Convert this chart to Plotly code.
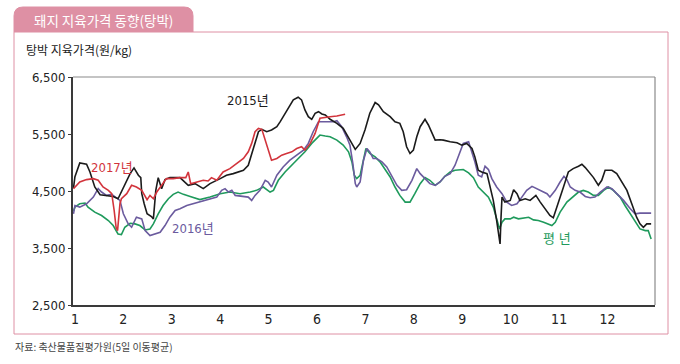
import plotly.graph_objects as go

# ---- data (x = month position, y = price won/kg) ----
y2015_x = [0.97, 1.00, 1.10, 1.24, 1.31, 1.41, 1.52, 1.65, 1.79, 1.89, 2.00, 2.14, 2.22, 2.31, 2.36, 2.38, 2.43, 2.49,
           2.58, 2.62, 2.67, 2.72, 2.79, 2.86, 2.96, 3.17, 3.34, 3.48, 3.65, 3.79, 4.00, 4.13, 4.27, 4.48, 4.58, 4.68,
           4.79, 4.86, 4.96, 5.06, 5.17, 5.24, 5.37, 5.51, 5.61, 5.68, 5.75, 5.82, 5.89, 5.96, 6.03, 6.10, 6.17, 6.27,
           6.41, 6.54, 6.68, 6.79, 6.89, 6.99, 7.09, 7.20, 7.27, 7.37, 7.51, 7.61, 7.71, 7.78, 7.85, 7.92, 7.99, 8.06,
           8.13, 8.23, 8.30, 8.37, 8.44, 8.54, 8.61, 8.75, 8.89, 8.99, 9.09, 9.20, 9.26, 9.33, 9.40, 9.51, 9.57, 9.64,
           9.71, 9.75, 9.78, 9.80, 9.82, 9.88, 9.99, 10.06, 10.13, 10.19, 10.30, 10.40, 10.52, 10.61, 10.71, 10.81,
           10.88, 10.99, 11.09, 11.19, 11.29, 11.40, 11.47, 11.54, 11.64, 11.71, 11.81, 11.88, 11.95, 12.09, 12.19,
           12.29, 12.40, 12.50, 12.60, 12.67, 12.74, 12.81, 12.90]
y2015_v = [4550, 4750, 4993, 4970, 4834, 4570, 4435, 4423, 4405, 4364, 4570, 4805, 4905, 4776, 4735, 4453, 4276, 4100,
           4052, 4011, 4511, 4735, 4541, 4700, 4735, 4735, 4600, 4629, 4541, 4629, 4717, 4776, 4805, 4864, 4952, 5246,
           5540, 5582, 5540, 5570, 5628, 5716, 5892, 6099, 6146, 6099, 5922, 5804, 5758, 5864, 5892, 5852, 5834, 5758,
           5687, 5599, 5393, 5229, 5335, 5570, 5864, 6052, 6011, 5892, 5804, 5716, 5687, 5540, 5276, 5158, 5217, 5451,
           5628, 5758, 5658, 5511, 5393, 5400, 5393, 5364, 5346, 5305, 5335, 5246, 5099, 4864, 4834, 4805, 4600, 4335,
           3982, 3747, 3570, 4040, 4393, 4305, 4335, 4523, 4453, 4335, 4364, 4335, 4423, 4305, 4188, 4070,
           4029, 4335, 4570, 4834, 4893, 4934, 4970, 4911, 4817, 4735, 4600, 4688, 4864, 4864, 4805,
           4658, 4511, 4276, 4040, 3923, 3864, 3923, 3923]

y2017_x = [0.97, 1.10, 1.24, 1.38, 1.48, 1.58, 1.69, 1.76, 1.81, 1.85, 1.88, 1.93, 1.96, 2.07, 2.17, 2.27, 2.38, 2.45,
           2.49, 2.55, 2.62, 2.69, 2.79, 2.89, 3.03, 3.17, 3.29, 3.34, 3.39, 3.51, 3.65, 3.75, 3.82, 3.93, 4.06, 4.20,
           4.34, 4.48, 4.58, 4.65, 4.72, 4.79, 4.86, 4.93, 4.99, 5.06, 5.17, 5.27, 5.37, 5.48, 5.58, 5.68, 5.75, 5.86,
           5.96, 6.03, 6.06, 6.27, 6.41, 6.58]
y2017_v = [4541, 4658, 4700, 4717, 4688, 4570, 4511, 4453, 4158, 3864, 3805, 4276, 4364, 4453, 4600, 4570, 4511, 4393,
           4347, 4423, 4364, 4482, 4600, 4717, 4717, 4735, 4735, 4834, 4629, 4658, 4688, 4676, 4735, 4688, 4834, 4893,
           4981, 5070, 5187, 5335, 5540, 5599, 5582, 5393, 5187, 5040, 5070, 5128, 5158, 5187, 5246, 5276, 5217, 5335,
           5511, 5716, 5775, 5804, 5816, 5846]

y2016_x = [0.97, 1.00, 1.10, 1.24, 1.38, 1.48, 1.55, 1.65, 1.76, 1.86, 1.93, 2.00, 2.10, 2.17, 2.27, 2.38, 2.45, 2.55,
           2.65, 2.76, 2.86, 2.96, 3.07, 3.17, 3.31, 3.44, 3.55, 3.65, 3.79, 3.93, 4.03, 4.10, 4.17, 4.24, 4.31, 4.44,
           4.58, 4.65, 4.72, 4.82, 4.93, 4.99, 5.06, 5.17, 5.30, 5.44, 5.58, 5.72, 5.82, 5.92, 6.03, 6.20, 6.34, 6.41,
           6.51, 6.61, 6.68, 6.74, 6.79, 6.82, 6.89, 6.96, 7.03, 7.09, 7.16, 7.23, 7.34, 7.44, 7.54, 7.65, 7.75, 7.85,
           7.96, 8.06, 8.13, 8.23, 8.33, 8.44, 8.54, 8.64, 8.75, 8.85, 8.95, 9.02, 9.13, 9.20, 9.26, 9.33, 9.40, 9.47,
           9.54, 9.61, 9.71, 9.82, 9.92, 10.02, 10.13, 10.23, 10.33, 10.44, 10.54, 10.64, 10.75, 10.81, 10.92, 11.02,
           11.10, 11.16, 11.23, 11.33, 11.43, 11.54, 11.64, 11.74, 11.85, 11.99, 12.09, 12.19, 12.33, 12.47, 12.57,
           12.67, 12.81, 12.90]
y2016_v = [4100, 4246, 4217, 4276, 4393, 4541, 4482, 4423, 4441, 4382, 4335, 4100, 3923, 3864, 4040, 4011, 3805, 3717,
           3747, 3776, 3894, 4040, 4158, 4188, 4246, 4276, 4305, 4335, 4364, 4393, 4511, 4541, 4482, 4511, 4423, 4405,
           4393, 4335, 4423, 4511, 4688, 4658, 4570, 4776, 4922, 5040, 5128, 5217, 5335, 5540, 5716, 5716, 5716, 5734,
           5628, 5451, 5305, 4981, 4629, 4570, 4658, 5040, 5246, 5187, 5070, 5070, 5011, 4922, 4776, 4600, 4511, 4523,
           4688, 4893, 4805, 4717, 4629, 4600, 4658, 4758, 4805, 4952, 5187, 5335, 5364, 5187, 5011, 4776, 4746, 4934,
           4876, 4717, 4570, 4453, 4305, 4246, 4276, 4393, 4511, 4582, 4541, 4511, 4453, 4393, 4511, 4658,
           4758, 4700, 4570, 4511, 4482, 4405, 4382, 4393, 4482, 4570, 4541, 4453, 4335, 4188, 4100,
           4111, 4111, 4111]

avg_x = [0.97, 1.00, 1.10, 1.21, 1.27, 1.41, 1.55, 1.69, 1.79, 1.89, 1.96, 2.03, 2.14, 2.24, 2.34, 2.45, 2.55, 2.62,
         2.72, 2.82, 2.93, 3.03, 3.13, 3.24, 3.38, 3.58, 3.79, 4.00, 4.20, 4.41, 4.62, 4.75, 4.89, 5.03, 5.10, 5.20,
         5.34, 5.48, 5.61, 5.75, 5.89, 5.96, 6.06, 6.17, 6.27, 6.41, 6.54, 6.65, 6.72, 6.77, 6.82, 6.89, 6.96, 7.01,
         7.09, 7.20, 7.30, 7.40, 7.51, 7.61, 7.71, 7.82, 7.92, 8.02, 8.13, 8.23, 8.33, 8.44, 8.54, 8.64, 8.75, 8.85,
         8.95, 9.02, 9.13, 9.23, 9.33, 9.44, 9.54, 9.64, 9.71, 9.77, 9.82, 9.88, 9.99, 10.06, 10.16, 10.26, 10.37,
         10.47, 10.57, 10.68, 10.78, 10.85, 10.92, 11.02, 11.16, 11.29, 11.40, 11.50, 11.60, 11.71, 11.81, 11.92,
         12.02, 12.12, 12.26, 12.36, 12.47, 12.57, 12.67, 12.78, 12.84, 12.90]
avg_v = [4150, 4217, 4276, 4288, 4217, 4129, 4070, 3982, 3894, 3747, 3735, 3864, 3934, 3923, 3894, 3817, 3835, 3923,
         4100, 4246, 4364, 4441, 4482, 4441, 4405, 4350, 4393, 4453, 4482, 4453, 4482, 4511, 4570, 4482, 4511, 4688,
         4834, 4952, 5070, 5187, 5335, 5393, 5481, 5464, 5451, 5393, 5305, 5187, 5011, 4776, 4717, 4776, 5040, 5246,
         5158, 5099, 5011, 4893, 4746, 4570, 4423, 4305, 4305, 4453, 4629, 4735, 4688, 4600, 4658, 4758, 4834, 4864,
         4864, 4876, 4817, 4735, 4570, 4482, 4393, 4217, 4011, 3835, 3952, 4011, 4011, 4040, 4011, 4029, 4040,
         3993, 3982, 3952, 3923, 3894, 3952, 4129, 4305, 4393, 4482, 4511, 4482, 4423, 4423, 4511,
         4570, 4511, 4393, 4246, 4100, 3952, 3835, 3805, 3805, 3658]

month_ticks = list(range(1, 13))
month_labels = [str(m) for m in month_ticks]
price_ticks = [2500, 3500, 4500, 5500, 6500]
price_labels = ["2,500", "3,500", "4,500", "5,500", "6,500"]

title_text = "돼지 지육가격 동향(탕박)"
ytitle_text = "탕박 지육가격(원/kg)"
source_text = "자료: 축산물품질평가원(5일 이동평균)"

C_2015 = "#1b1b1b"
C_2016 = "#6b5b9e"
C_2017 = "#d2343c"
C_AVG = "#1f9a5c"
PINK = "#de90a4"

FONT = "Liberation Sans Narrow, DejaVu Sans Condensed, Noto Sans CJK KR, sans-serif"
KFONT = "Noto Sans CJK KR, sans-serif"

fig = go.Figure()
for xs, vs, col in [(avg_x, avg_v, C_AVG), (y2016_x, y2016_v, C_2016),
                    (y2015_x, y2015_v, C_2015), (y2017_x, y2017_v, C_2017)]:
    fig.add_trace(go.Scatter(x=xs, y=vs, mode="lines",
                             line=dict(color=col, width=1.6), showlegend=False, hoverinfo="skip"))

# series labels
fig.add_annotation(x=4.57, y=6080, text="2015년", showarrow=False,
                   font=dict(family=FONT, size=13, color=C_2015))
fig.add_annotation(x=1.76, y=4920, text="2017년", showarrow=False,
                   font=dict(family=FONT, size=13, color=C_2017))
fig.add_annotation(x=3.44, y=3840, text="2016년", showarrow=False,
                   font=dict(family=FONT, size=13, color=C_2016))
fig.add_annotation(x=10.96, y=3664, text="평 년", showarrow=False,
                   font=dict(family=FONT, size=13, color=C_AVG))

# plot area: left 73, right 655, top 77, bottom 305 (pixels)
W, H = 680, 364
L, R, T, B = 73, 655, 77, 305
pw, ph = R - L, B - T

def px(x):
    return (x - L) / pw

def py(y):
    return (B - y) / ph

# outer pink frame
fig.add_shape(type="path", xref="paper", yref="paper",
              path=f"M {px(193)},{py(32)} L {px(668)},{py(32)} L {px(668)},{py(334)} "
                   f"L {px(14)},{py(334)} L {px(14)},{py(32)}",
              line=dict(color=PINK, width=1), layer="below")
# title tab with rounded top corners
rx, ry = 9 / pw, 9 / ph
x0, x1, y0, y1 = px(14), px(193), py(32), py(7)
fig.add_shape(type="path", xref="paper", yref="paper",
              path=(f"M {x0},{y0} L {x0},{y1 - ry} Q {x0},{y1} {x0 + rx},{y1} "
                    f"L {x1 - rx},{y1} Q {x1},{y1} {x1},{y1 - ry} L {x1},{y0} Z"),
              fillcolor=PINK, line=dict(color=PINK, width=1), layer="below")
fig.add_annotation(xref="paper", yref="paper", x=px(103), y=py(20), text=title_text,
                   xanchor="center", yanchor="middle",
                   showarrow=False, font=dict(family=KFONT, size=13.5, color="white"))

# top and right plot border (thin grey)
fig.add_shape(type="line", xref="paper", yref="paper", x0=0, x1=1, y0=1, y1=1,
              line=dict(color="#8a8a8a", width=1.2))
fig.add_shape(type="line", xref="paper", yref="paper", x0=1, x1=1, y0=0, y1=1,
              line=dict(color="#8a8a8a", width=1.2))

fig.add_annotation(xref="paper", yref="paper", x=px(24), y=py(50), xanchor="left", yanchor="middle",
                   text=ytitle_text, showarrow=False,
                   font=dict(family=KFONT, size=12, color="#222"))
fig.add_annotation(xref="paper", yref="paper", x=px(13), y=py(346), xanchor="left", yanchor="middle",
                   text=source_text, showarrow=False,
                   font=dict(family=KFONT, size=10, color="#444"))

fig.update_layout(
    width=W, height=H,
    margin=dict(l=L, r=W - R, t=T, b=H - B),
    paper_bgcolor="white", plot_bgcolor="white",
    xaxis=dict(range=[0.96, 12.98], tickvals=month_ticks, ticktext=month_labels,
               showgrid=False, zeroline=False, showline=True, linecolor="#3a3a3a", linewidth=2,
               ticks="", tickfont=dict(family=FONT, size=14, color="#222")),
    yaxis=dict(range=[2500, 6500], tickvals=price_ticks, ticktext=price_labels,
               showgrid=False, zeroline=False, showline=True, linecolor="#3a3a3a", linewidth=2,
               ticks="outside", ticklen=3, tickcolor="#3a3a3a",
               tickfont=dict(family=FONT, size=13, color="#222")),
)

fig.write_html("out.html", config={"displayModeBar": False},
               post_script="document.body.style.margin='0';")
